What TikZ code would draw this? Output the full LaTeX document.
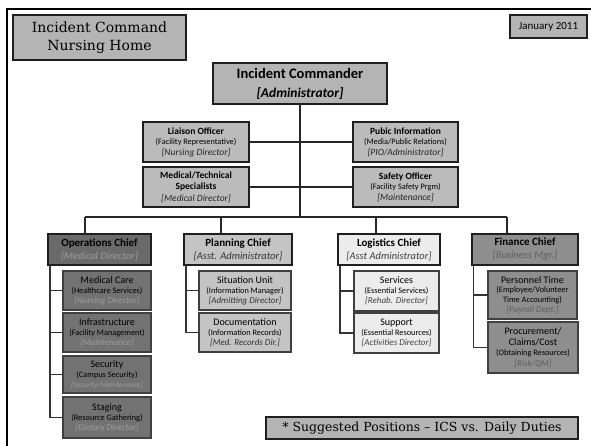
\documentclass[tikz,border=0pt]{standalone}
\usepackage{fontspec}
\setmainfont{DejaVu Serif}
\setsansfont{Carlito}
\definecolor{cTitle}{HTML}{B4B4B4}
\definecolor{cStaff}{HTML}{BBBBBB}
\definecolor{cOps}{HTML}{6A6A6A}
\definecolor{cOpsSub}{HTML}{727272}
\definecolor{cPlan}{HTML}{C4C4C4}
\definecolor{cLog}{HTML}{ECECEC}
\definecolor{cFin}{HTML}{8E8E8E}
\definecolor{cOpsIt}{HTML}{9C9C9C}
\definecolor{cFinIt}{HTML}{5E5E5E}
\tikzset{
  bx/.style={draw=black!88, line width=1.6pt, anchor=north west, inner sep=0pt, outer sep=0pt, align=center},
  sbx/.style={draw=black!75, line width=1.1pt, anchor=north west, inner sep=0pt, outer sep=0pt, align=center, font=\sffamily\fontsize{7.5}{10}\selectfont},
  staffbox/.style={bx, fill=cStaff, font=\sffamily\fontsize{8}{10.5}\selectfont},
  chiefbox/.style={bx, font=\sffamily\fontsize{10}{13}\selectfont},
  conn/.style={draw=black!85, line width=1.2pt},
  sconn/.style={draw=black!80, line width=1.1pt},
}
\newcommand{\ttl}[1]{{\bfseries\fontsize{9.5}{10}\selectfont #1}}
\newcommand{\sub}[1]{{\fontsize{8.3}{9}\selectfont #1}}
\newcommand{\itl}[1]{{\itshape\fontsize{9.5}{10}\selectfont\color{black!85}#1}}
\newcommand{\stl}[1]{{\fontsize{10}{10}\selectfont #1}}
\newcommand{\sit}[2]{{\itshape\fontsize{9}{10}\selectfont\color{#1}#2}}
\newcommand{\chf}[3]{{\bfseries\fontsize{11}{13}\selectfont #1}\\{\itshape\fontsize{10.5}{12}\selectfont\color{#2}#3}}
\begin{document}
\begin{tikzpicture}[x=1pt,y=-1pt]
\useasboundingbox (0,0) rectangle (591,446);
% outer frame
\draw[line width=2.2pt] (7,470) -- (7,9) -- (620,9);
% title
\node[bx, fill=cTitle, minimum width=173, minimum height=45, font=\rmfamily\fontsize{14}{18}\selectfont] (title) at (13,15) {Incident Command\\Nursing Home};
\node[bx, fill=cTitle, minimum width=77, minimum height=23, font=\sffamily\fontsize{11}{12}\selectfont] (date) at (510,15) {January 2011};
% incident commander
\node[bx, fill=cTitle, minimum width=174, minimum height=41, font=\sffamily\fontsize{13}{19}\selectfont] (ic) at (213,63) {{\bfseries\fontsize{14.5}{17}\selectfont Incident Commander}\\{\bfseries\itshape\fontsize{13.5}{16}\selectfont [Administrator]}};
% staff
\node[staffbox, minimum width=106, minimum height=40] (liaison) at (143,122) {\ttl{Liaison Officer}\\\sub{(Facility Representative)}\\\itl{[Nursing Director]}};
\node[staffbox, minimum width=106, minimum height=40, font=\sffamily\fontsize{8}{11.5}\selectfont] (medtech) at (143,167) {\ttl{Medical/Technical}\\\ttl{Specialists}\\\itl{[Medical Director]}};
\node[staffbox, minimum width=105, minimum height=40] (pio) at (353,122) {\ttl{Pubic Information}\\\sub{(Media/Public Relations)}\\\itl{[PIO/Administrator]}};
\node[staffbox, minimum width=105, minimum height=40] (safety) at (353,167) {\ttl{Safety Officer}\\\sub{(Facility Safety Prgm)}\\\itl{[Maintenance]}};
% chiefs
\node[chiefbox, fill=cOps, minimum width=103, minimum height=31] (ops) at (48,234) {\chf{Operations Chief}{cOpsIt}{[Medical Director]}};
\node[chiefbox, fill=cPlan, minimum width=108, minimum height=31] (plan) at (184,234) {\chf{Planning Chief}{black!80}{[Asst. Administrator]}};
\node[chiefbox, fill=cLog, minimum width=102, minimum height=31] (log) at (338,234) {\chf{Logistics Chief}{black!75}{[Asst Administrator]}};
\node[chiefbox, fill=cFin, minimum width=106, minimum height=31] (fin) at (472,234) {\chf{Finance Chief}{cFinIt}{[Business Mgr.]}};
% operations subs
\node[sbx, fill=cOpsSub, minimum width=88, minimum height=39] (medcare) at (63,271) {\stl{Medical Care}\\\sub{(Healthcare Services)}\\\sit{cOpsIt}{[Nursing Director]}};
\node[sbx, fill=cOpsSub, minimum width=88, minimum height=39] (infra) at (63,313) {\stl{Infrastructure}\\\sub{(Facility Management)}\\\sit{cOpsIt}{[Maintenance]}};
\node[sbx, fill=cOpsSub, minimum width=88, minimum height=37] (secur) at (63,356) {\stl{Security}\\\sub{(Campus Security)}\\{\itshape\fontsize{7.5}{10}\selectfont\color{cOpsIt}[Security/Maintenance]}};
\node[sbx, fill=cOpsSub, minimum width=88, minimum height=41] (staging) at (63,397) {\stl{Staging}\\\sub{(Resource Gathering)}\\\sit{cOpsIt}{[Dietary Director]}};
% planning subs
\node[sbx, fill=cPlan, minimum width=92, minimum height=39] (situ) at (199,271) {\stl{Situation Unit}\\\sub{(Information Manager)}\\\sit{black!80}{[Admitting Director]}};
\node[sbx, fill=cPlan, minimum width=92, minimum height=39] (doc) at (199,313) {\stl{Documentation}\\\sub{(Information Records)}\\\sit{black!80}{[Med. Records Dir.]}};
% logistics subs
\node[sbx, fill=cLog, minimum width=85, minimum height=40] (serv) at (354,271) {\stl{Services}\\\sub{(Essential Services)}\\\sit{black!75}{[Rehab. Director]}};
\node[sbx, fill=cLog, minimum width=85, minimum height=40] (supp) at (354,313) {\stl{Support}\\\sub{(Essential Resources)}\\\sit{black!75}{[Activities Director]}};
% finance subs
\node[sbx, fill=cFin, minimum width=89, minimum height=48, font=\sffamily\fontsize{7.5}{9.7}\selectfont] (pers) at (488,271) {\stl{Personnel Time}\\\sub{(Employee/Volunteer}\\\sub{Time Accounting)}\\\sit{cFinIt}{[Payroll Dept.]}};
\node[sbx, fill=cFin, minimum width=90, minimum height=51, font=\sffamily\fontsize{7.5}{10.7}\selectfont] (proc) at (488,322) {\stl{Procurement/}\\\stl{Claims/Cost}\\\sub{(Obtaining Resources)}\\\sit{cFinIt}{[Risk/QM]}};
% footer
\node[bx, fill=cTitle, minimum width=312, minimum height=22, font=\rmfamily\fontsize{12.5}{14}\selectfont] (note) at (266,417) {* Suggested Positions -- ICS vs. Daily Duties};
% connectors
\coordinate (bar) at (300,217);
\coordinate (bl) at (85,217);
\coordinate (bpl) at (221,217);
\coordinate (blg) at (376,217);
\coordinate (br) at (507,217);
\draw[conn] (ic.south) -- (bar);
\draw[conn] (bl) -- (br);
\draw[conn] (bl) -- (bl |- ops.north);
\draw[conn] (bpl) -- (bpl |- plan.north);
\draw[conn] (blg) -- (blg |- log.north);
\draw[conn] (br) -- (br |- fin.north);
\draw[conn] (liaison.east) -- (pio.west);
\draw[conn] (medtech.east) -- (safety.west);
% sub connectors
\draw[sconn] ([xshift=2pt]ops.south west) |- (staging.west);
\draw[sconn] ([xshift=2pt]ops.south west |- medcare.west) -- (medcare.west);
\draw[sconn] ([xshift=2pt]ops.south west |- infra.west) -- (infra.west);
\draw[sconn] ([xshift=2pt]ops.south west |- secur.west) -- (secur.west);
\draw[sconn] ([xshift=2pt]plan.south west) |- (doc.west);
\draw[sconn] ([xshift=2pt]plan.south west |- situ.west) -- (situ.west);
\draw[sconn] ([xshift=2pt]log.south west) |- (supp.west);
\draw[sconn] ([xshift=2pt]log.south west |- serv.west) -- (serv.west);
\draw[sconn] ([xshift=1.5pt]fin.south west) |- (proc.west);
\draw[sconn] ([xshift=1.5pt]fin.south west |- pers.west) -- (pers.west);
\end{tikzpicture}
\end{document}
